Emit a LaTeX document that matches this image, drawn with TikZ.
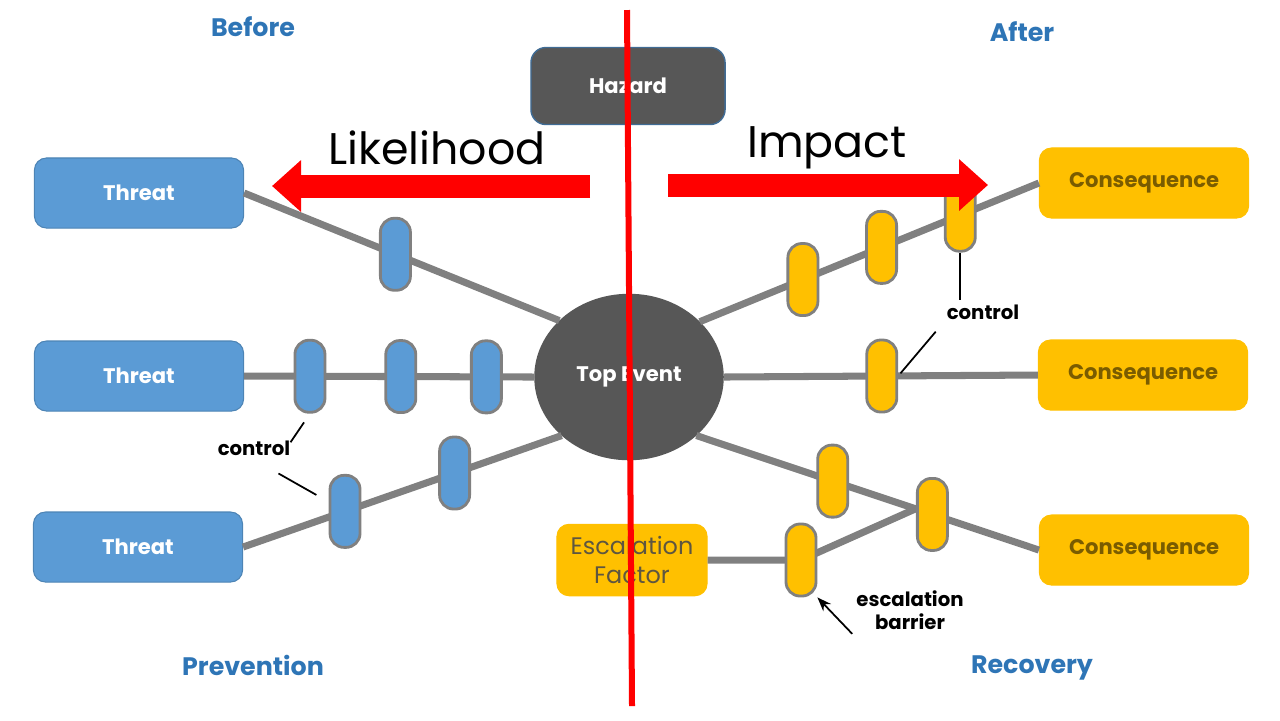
\documentclass[tikz,border=0pt]{standalone}
\usepackage{fontspec}
\setmainfont{Poppins}
\usepackage{xcolor}
\usetikzlibrary{arrows.meta,positioning,shapes.geometric}

\definecolor{threatblue}{HTML}{5B9BD5}
\definecolor{consyellow}{HTML}{FFC000}
\definecolor{darkbox}{HTML}{575757}
\definecolor{linkgray}{HTML}{808080}
\definecolor{headblue}{HTML}{2E75B6}
\definecolor{constext}{HTML}{5E5640}
\definecolor{consbrown}{HTML}{7A5C00}

\tikzset{
    threatbox/.style={rectangle, rounded corners=0.12cm, fill=threatblue, draw=threatblue!85!black, line width=0.3pt,
        minimum width=2.09cm, minimum height=0.70cm, text=white, font=\fontsize{6}{7}\selectfont\bfseries},
    consbox/.style={rectangle, rounded corners=0.12cm, fill=consyellow, draw=consyellow, line width=0.3pt,
        minimum width=2.09cm, minimum height=0.70cm, text=consbrown, font=\fontsize{6}{7}\selectfont\bfseries},
    darknode/.style={fill=darkbox, draw=darkbox, text=white, font=\fontsize{6}{7}\selectfont\bfseries},
    barrier/.style={rectangle, rounded corners=0.14cm, minimum width=0.30cm, minimum height=0.72cm,
        inner sep=0pt, draw=linkgray, line width=0.8pt},
    bluebar/.style={barrier, fill=threatblue},
    yellowbar/.style={barrier, fill=consyellow},
    link/.style={draw=linkgray, line width=2pt},
    pointer/.style={draw=black, line width=0.5pt},
    heading/.style={text=headblue, font=\fontsize{7.2}{8}\selectfont\bfseries},
    lbl/.style={font=\fontsize{5.6}{6.6}\selectfont\bfseries, align=center, inner sep=1pt},
    bigword/.style={font=\fontsize{12.6}{14}\selectfont},
    redarrow/.style={draw=red, line width=0.23cm, -{Triangle[length=0.29cm, width=0.50cm]}}
}

\begin{document}
\begin{tikzpicture}[x=0.01cm, y=-0.01cm]
    \useasboundingbox (0,0) rectangle (1280,720);

    % Headings
    \node[heading] (before) at (253,27) {Before};
    \node[heading] (after) at (1022,32) {After};
    \node[heading] (prev) at (253,665) {Prevention};
    \node[heading] (recov) at (1032,668) {Recovery};

    % Boxes
    \node[rectangle, rounded corners=0.15cm, darknode, draw=threatblue!70!black, line width=0.4pt,
        minimum width=1.94cm, minimum height=0.77cm] (haz) at (628,86) {Hazard};
    \node[ellipse, darknode, minimum width=1.88cm, minimum height=1.65cm] (top) at (629,377) {Top Event};

    \node[threatbox] (t1) at (139,193) {Threat};
    \node[threatbox] (t2) at (139,376) {Threat};
    \node[threatbox] (t3) at (138,547) {Threat};

    \node[consbox] (c1) at (1144,183) {Consequence};
    \node[consbox] (c2) at (1143,375) {Consequence};
    \node[consbox] (c3) at (1144,550) {Consequence};

    \node[consbox, minimum width=1.50cm, minimum height=0.66cm, align=center, text=constext,
        font=\fontsize{6.8}{8.4}\selectfont] (esc) at (632,560) {Escalation\\Factor};

    % Threat side with controls
    \draw[link] (t1.east) -- (top.141) node[bluebar, pos=0.48] (b11) {};
    \draw[link] (t2.east) -- (top.west)
        node[bluebar, pos=0.227] (b21) {}
        node[bluebar, pos=0.54] (b22) {}
        node[bluebar, pos=0.835] (b23) {};
    \draw[link] (t3.east) -- (top.221.6)
        node[bluebar, pos=0.32] (b31) {}
        node[bluebar, pos=0.664] (b32) {};

    % Consequence side with controls
    \draw[link] (top.38.6) -- (c1.west)
        node[yellowbar, pos=0.304] (d11) {}
        node[yellowbar, pos=0.536] (d12) {}
        node[yellowbar, pos=0.768] (d13) {};
    \draw[link] (top.east) -- (c2.west) node[yellowbar, pos=0.503] (d21) {};
    \draw[link] (top.319) -- (c3.west)
        coordinate[pos=0.64] (join)
        node[yellowbar, pos=0.398] (d31) {}
        node[yellowbar, pos=0.689] (d32) {};

    % Escalation factor
    \draw[link] (esc.east) -- (801,560) node[yellowbar] (eb) {} -- (join);

    % Labels
    \node[lbl] (ctl1) at (254,448) {control};
    \draw[pointer, shorten <=-2pt, shorten >=3pt] (ctl1.north east) -- (b21.south);
    \draw[pointer, shorten <=8pt, shorten >=4pt] (ctl1.south) -- (b31.150);

    \node[lbl] (ctl2) at (983,312) {control};
    \draw[pointer] (d13.south) -- (d13.south |- ctl2.north);
    \draw[pointer, shorten <=3pt, shorten >=1pt] (ctl2.south west) -- (d21.east);

    \node[lbl] (ebl) at (910,610) {escalation\\barrier};
    \draw[pointer, -{Stealth[length=4pt, width=3pt]}] (ebl.south west) -- (eb.south east);

    % Likelihood / Impact
    \draw[redarrow] (590,186) -- (272,186);
    \draw[redarrow] (668,185) -- (988,185);
    \node[bigword] (like) at (437,148) {Likelihood};
    \node[bigword] (imp) at (827,148) {Impact};

    % Divider
    \draw[red, line width=0.06cm] (627,10) -- (632,706);
\end{tikzpicture}
\end{document}
